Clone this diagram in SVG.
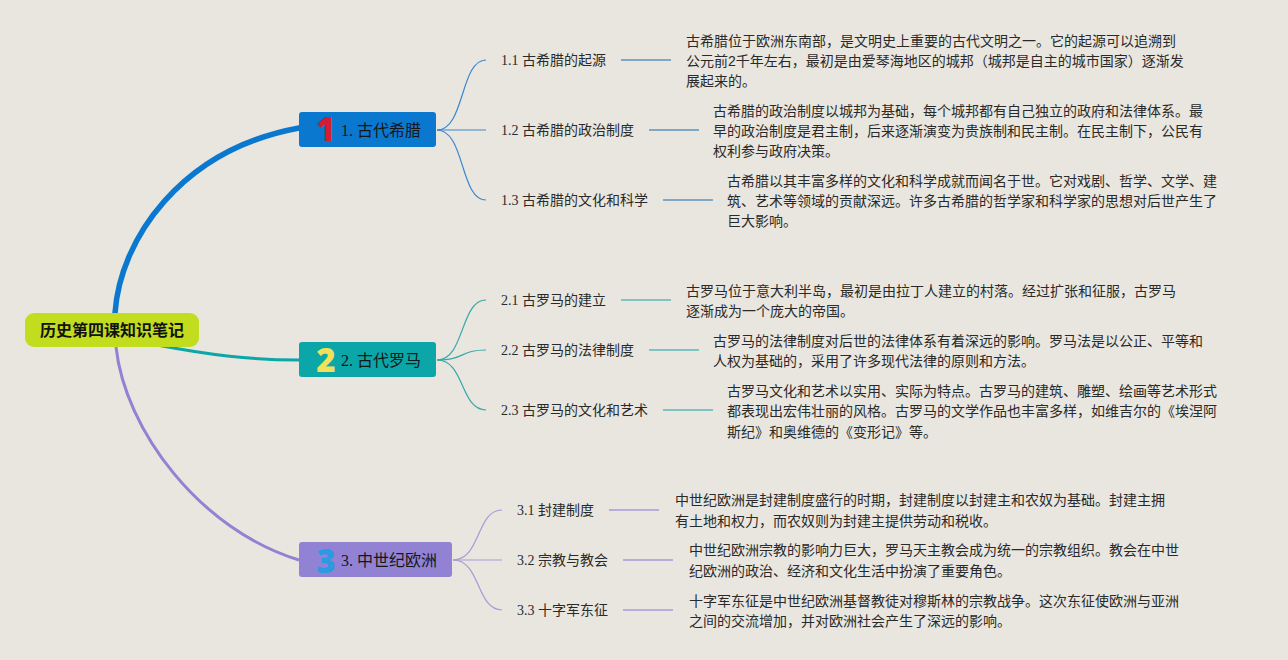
<svg xmlns="http://www.w3.org/2000/svg" width="1288" height="660" viewBox="0 0 1288 660">
<style>
.bg{fill:#e8e6df}
.title{font-family:"Liberation Serif","Noto Sans CJK SC",serif;font-size:16px;fill:#161616}
.num{font-family:"Open Sans","Liberation Sans",sans-serif;font-size:33px;font-weight:800;text-anchor:middle}
.sub{font-family:"Liberation Serif","Noto Sans CJK SC",serif;font-size:14px;fill:#2a2a2a}
.desc{font-family:"Liberation Sans","Noto Sans CJK SC",sans-serif;font-size:14px;fill:#2a2a2a}
.root{font-family:"Noto Sans CJK SC",sans-serif;font-size:16px;font-weight:bold;fill:#111;text-anchor:middle}
.c1{fill:none;stroke:#3a88cf;stroke-width:1.2}
.c2{fill:none;stroke:#35a8ab;stroke-width:1.2}
.c3{fill:none;stroke:#a699d8;stroke-width:1.2}
.l1{stroke:#7ea8c8;stroke-width:2}
.l2{stroke:#7fc2c2;stroke-width:2}
.l3{stroke:#b6addb;stroke-width:2}
</style>
<rect class="bg" x="0" y="0" width="1288" height="660"/>
<g id="connectors">
<path d="M115 313 C120 240,180 150,299 128" fill="none" stroke="#0b78d0" stroke-width="5.5" stroke-linecap="round"/>
<path d="M157 345 C210 355,250 360,299 360" fill="none" stroke="#0aa6a8" stroke-width="3"/>
<path d="M116 347 C125 430,200 530,299 560" fill="none" stroke="#9282d3" stroke-width="3"/>
<path class="c1" d="M437 130 C465 130,460 60,486 60"/>
<path class="c1" d="M437 130 L486 130"/>
<path class="c1" d="M437 130 C465 130,460 200,486 200"/>
<line class="l1" x1="621" y1="60" x2="671" y2="60"/>
<line class="l1" x1="649" y1="130" x2="699" y2="130"/>
<line class="l1" x1="663" y1="200" x2="713" y2="200"/>
<path class="c2" d="M437 360 C465 360,460 300,486 300"/>
<path class="c2" d="M437 360 C465 360,460 350,486 350"/>
<path class="c2" d="M437 360 C465 360,460 410,486 410"/>
<line class="l2" x1="621" y1="300" x2="671" y2="300"/>
<line class="l2" x1="649" y1="350" x2="699" y2="350"/>
<line class="l2" x1="663" y1="410" x2="713" y2="410"/>
<path class="c3" d="M453 560 C481 560,476 510,502 510"/>
<path class="c3" d="M453 560 L502 560"/>
<path class="c3" d="M453 560 C481 560,476 610,502 610"/>
<line class="l3" x1="609" y1="510" x2="659" y2="510"/>
<line class="l3" x1="623" y1="560" x2="673" y2="560"/>
<line class="l3" x1="623" y1="610" x2="673" y2="610"/>
</g>
<g id="root">
<rect x="25" y="313" width="174" height="34" rx="9" fill="#c2dc1e"/>
<text class="root" x="112" y="336">历史第四课知识笔记</text>
</g>
<g id="node1">
<rect x="299" y="112" width="137" height="35" rx="3" fill="#0b78d0"/>
<text class="num" x="326" y="141" fill="#d41c34">1</text>
<text class="title" x="341" y="136">1. 古代希腊</text>
</g>
<g id="node2">
<rect x="299" y="342" width="137" height="35" rx="3" fill="#0aa6a8"/>
<text class="num" x="326" y="372" fill="#f0e05a">2</text>
<text class="title" x="341" y="366">2. 古代罗马</text>
</g>
<g id="node3">
<rect x="299" y="542" width="153" height="35" rx="3" fill="#9282d3"/>
<text class="num" x="326" y="573" fill="#2a9be2">3</text>
<text class="title" x="341" y="566">3. 中世纪欧洲</text>
</g>
<g id="n11"><text class="sub" x="501" y="65">1.1 古希腊的起源</text></g>
<g id="n12"><text class="sub" x="501" y="135">1.2 古希腊的政治制度</text></g>
<g id="n13"><text class="sub" x="501" y="205">1.3 古希腊的文化和科学</text></g>
<g id="n21"><text class="sub" x="501" y="305">2.1 古罗马的建立</text></g>
<g id="n22"><text class="sub" x="501" y="355">2.2 古罗马的法律制度</text></g>
<g id="n23"><text class="sub" x="501" y="415">2.3 古罗马的文化和艺术</text></g>
<g id="n31"><text class="sub" x="517" y="515">3.1 封建制度</text></g>
<g id="n32"><text class="sub" x="517" y="565">3.2 宗教与教会</text></g>
<g id="n33"><text class="sub" x="517" y="615">3.3 十字军东征</text></g>
<g id="d11"><text class="desc"><tspan x="686" y="46">古希腊位于欧洲东南部，是文明史上重要的古代文明之一。它的起源可以追溯到</tspan><tspan x="686" y="66">公元前2千年左右，最初是由爱琴海地区的城邦（城邦是自主的城市国家）逐渐发</tspan><tspan x="686" y="86">展起来的。</tspan></text></g>
<g id="d12"><text class="desc"><tspan x="713" y="116">古希腊的政治制度以城邦为基础，每个城邦都有自己独立的政府和法律体系。最</tspan><tspan x="713" y="136">早的政治制度是君主制，后来逐渐演变为贵族制和民主制。在民主制下，公民有</tspan><tspan x="713" y="156">权利参与政府决策。</tspan></text></g>
<g id="d13"><text class="desc"><tspan x="727" y="186">古希腊以其丰富多样的文化和科学成就而闻名于世。它对戏剧、哲学、文学、建</tspan><tspan x="727" y="206">筑、艺术等领域的贡献深远。许多古希腊的哲学家和科学家的思想对后世产生了</tspan><tspan x="727" y="226">巨大影响。</tspan></text></g>
<g id="d21"><text class="desc"><tspan x="686" y="296">古罗马位于意大利半岛，最初是由拉丁人建立的村落。经过扩张和征服，古罗马</tspan><tspan x="686" y="316">逐渐成为一个庞大的帝国。</tspan></text></g>
<g id="d22"><text class="desc"><tspan x="713" y="346">古罗马的法律制度对后世的法律体系有着深远的影响。罗马法是以公正、平等和</tspan><tspan x="713" y="366">人权为基础的，采用了许多现代法律的原则和方法。</tspan></text></g>
<g id="d23"><text class="desc"><tspan x="727" y="396">古罗马文化和艺术以实用、实际为特点。古罗马的建筑、雕塑、绘画等艺术形式</tspan><tspan x="727" y="416">都表现出宏伟壮丽的风格。古罗马的文学作品也丰富多样，如维吉尔的《埃涅阿</tspan><tspan x="727" y="437">斯纪》和奥维德的《变形记》等。</tspan></text></g>
<g id="d31"><text class="desc"><tspan x="675" y="505">中世纪欧洲是封建制度盛行的时期，封建制度以封建主和农奴为基础。封建主拥</tspan><tspan x="675" y="526">有土地和权力，而农奴则为封建主提供劳动和税收。</tspan></text></g>
<g id="d32"><text class="desc"><tspan x="689" y="555">中世纪欧洲宗教的影响力巨大，罗马天主教会成为统一的宗教组织。教会在中世</tspan><tspan x="689" y="576">纪欧洲的政治、经济和文化生活中扮演了重要角色。</tspan></text></g>
<g id="d33"><text class="desc"><tspan x="689" y="606">十字军东征是中世纪欧洲基督教徒对穆斯林的宗教战争。这次东征使欧洲与亚洲</tspan><tspan x="689" y="626">之间的交流增加，并对欧洲社会产生了深远的影响。</tspan></text></g>
</svg>
